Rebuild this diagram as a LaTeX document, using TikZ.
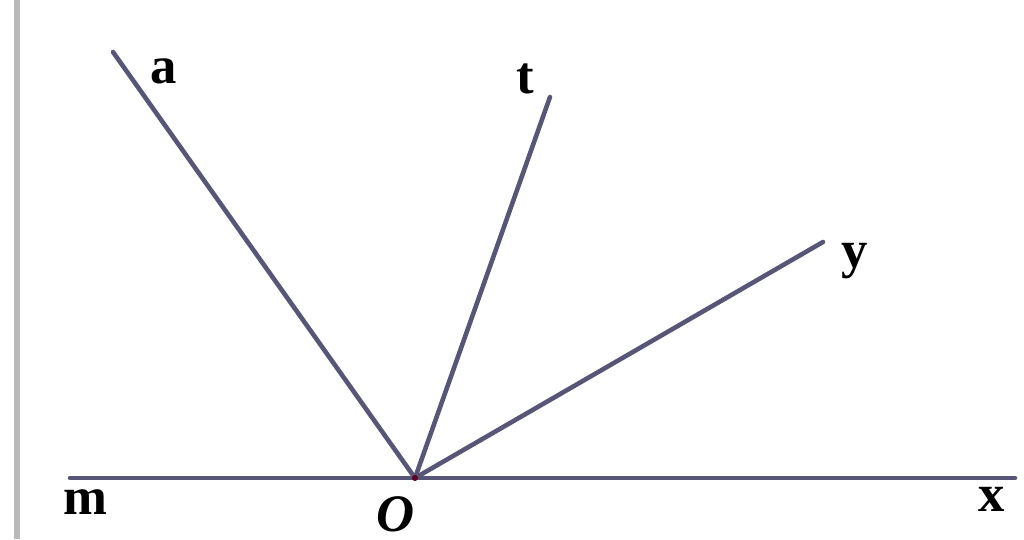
\documentclass[tikz,border=0pt]{standalone}
\usepackage{fontspec}
\setmainfont{Liberation Serif}
\usepackage{tikz}
\usetikzlibrary{calc}
\definecolor{raycol}{RGB}{88,86,118}
\tikzstyle{ray} = [draw=raycol, line width=1.3pt, line cap=round]
\tikzstyle{lbl} = [inner sep=0pt, font=\fontsize{15}{17}\selectfont\bfseries]
\begin{document}
\begin{tikzpicture}

        \useasboundingbox (0,0) rectangle (10.24,5.39);
        \draw[gray!55, line width=1.6pt] (0.17,0) -- (0.17,5.39);

        \coordinate (O) at (4.15,0.61);
        \coordinate (M) at (0.70,0.61);
        \coordinate (X) at (10.15,0.61);
        \coordinate (A) at (1.13,4.87);
        \coordinate (T) at (5.50,4.42);
        \coordinate (Y) at (8.23,2.97);

        \draw[ray] (M) -- (X);
        \draw[ray] (O) -- (A);
        \draw[ray] (O) -- (T);
        \draw[ray] (O) -- (Y);
        \fill[purple!50!black] (O) circle (0.03);

        \node (la) [lbl] at (1.64,4.68) {a};
        \node (lt) [lbl] at (5.25,4.60) {t};
        \node (ly) [lbl] at (8.55,2.78) {y};
        \node (lm) [lbl] at (0.85,0.37) {m};
        \node (lo) [lbl] at (3.96,0.25) {\itshape O};
        \node (lx) [lbl] at (9.92,0.40) {x};

\end{tikzpicture}
\end{document}
